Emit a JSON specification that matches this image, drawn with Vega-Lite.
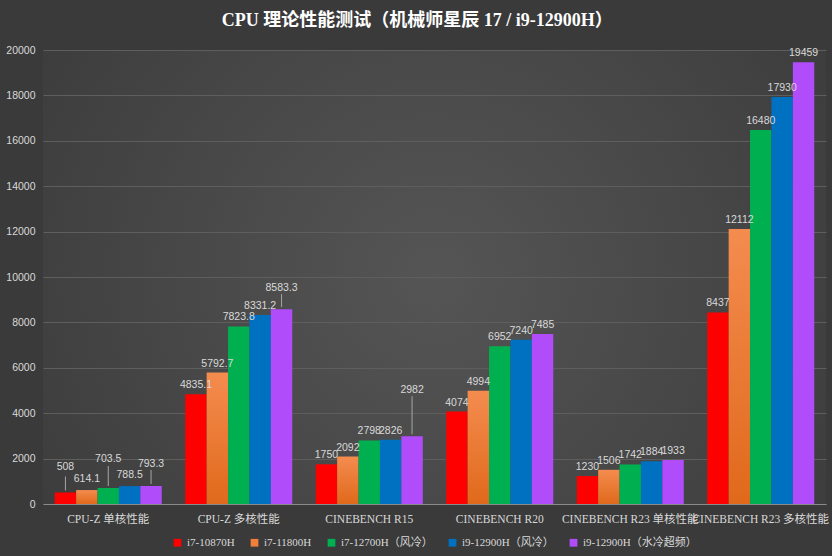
{
  "$schema": "https://vega.github.io/schema/vega-lite/v6.json",
  "autosize": {"type": "fit", "contains": "padding"},
  "width": 832,
  "height": 556,
  "padding": {"left": 5, "top": 12, "right": 6, "bottom": 8},
  "background": "#3a3a3a",
  "title": {
    "text": "CPU 理论性能测试（机械师星辰 17 / i9-12900H）",
    "font": "Liberation Serif, Noto Sans CJK SC",
    "fontSize": 18,
    "fontWeight": "bold",
    "color": "#ffffff",
    "anchor": "middle",
    "frame": "bounds",
    "offset": 15
  },
  "data": {
    "values": [
      {"cat": "CPU-Z 单核性能", "cpu": "i7-10870H", "value": 508},
      {"cat": "CPU-Z 单核性能", "cpu": "i7-11800H", "value": 614.1},
      {"cat": "CPU-Z 单核性能", "cpu": "i7-12700H（风冷）", "value": 703.5},
      {"cat": "CPU-Z 单核性能", "cpu": "i9-12900H（风冷）", "value": 788.5},
      {"cat": "CPU-Z 单核性能", "cpu": "i9-12900H（水冷超频）", "value": 793.3},
      {"cat": "CPU-Z 多核性能", "cpu": "i7-10870H", "value": 4835.1},
      {"cat": "CPU-Z 多核性能", "cpu": "i7-11800H", "value": 5792.7},
      {"cat": "CPU-Z 多核性能", "cpu": "i7-12700H（风冷）", "value": 7823.8},
      {"cat": "CPU-Z 多核性能", "cpu": "i9-12900H（风冷）", "value": 8331.2},
      {"cat": "CPU-Z 多核性能", "cpu": "i9-12900H（水冷超频）", "value": 8583.3},
      {"cat": "CINEBENCH R15", "cpu": "i7-10870H", "value": 1750},
      {"cat": "CINEBENCH R15", "cpu": "i7-11800H", "value": 2092},
      {"cat": "CINEBENCH R15", "cpu": "i7-12700H（风冷）", "value": 2798},
      {"cat": "CINEBENCH R15", "cpu": "i9-12900H（风冷）", "value": 2826},
      {"cat": "CINEBENCH R15", "cpu": "i9-12900H（水冷超频）", "value": 2982},
      {"cat": "CINEBENCH R20", "cpu": "i7-10870H", "value": 4074},
      {"cat": "CINEBENCH R20", "cpu": "i7-11800H", "value": 4994},
      {"cat": "CINEBENCH R20", "cpu": "i7-12700H（风冷）", "value": 6952},
      {"cat": "CINEBENCH R20", "cpu": "i9-12900H（风冷）", "value": 7240},
      {"cat": "CINEBENCH R20", "cpu": "i9-12900H（水冷超频）", "value": 7485},
      {"cat": "CINEBENCH R23 单核性能", "cpu": "i7-10870H", "value": 1230},
      {"cat": "CINEBENCH R23 单核性能", "cpu": "i7-11800H", "value": 1506},
      {"cat": "CINEBENCH R23 单核性能", "cpu": "i7-12700H（风冷）", "value": 1742},
      {"cat": "CINEBENCH R23 单核性能", "cpu": "i9-12900H（风冷）", "value": 1884},
      {"cat": "CINEBENCH R23 单核性能", "cpu": "i9-12900H（水冷超频）", "value": 1933},
      {"cat": "CINEBENCH R23 多核性能", "cpu": "i7-10870H", "value": 8437},
      {"cat": "CINEBENCH R23 多核性能", "cpu": "i7-11800H", "value": 12112},
      {"cat": "CINEBENCH R23 多核性能", "cpu": "i7-12700H（风冷）", "value": 16480},
      {"cat": "CINEBENCH R23 多核性能", "cpu": "i9-12900H（风冷）", "value": 17930},
      {"cat": "CINEBENCH R23 多核性能", "cpu": "i9-12900H（水冷超频）", "value": 19459}
    ]
  },
  "encoding": {
    "x": {
      "field": "cat", "type": "nominal", "sort": null,
      "scale": {"paddingInner": 0.18, "paddingOuter": 0.09},
      "axis": {"title": null, "labelAngle": 0, "ticks": false, "labelPadding": 9, "domainColor": "#8a8a8a", "labelFontSize": 11.5, "labelFont": "Liberation Serif, Noto Sans CJK SC"}
    },
    "xOffset": {
      "field": "cpu", "type": "nominal", "sort": null,
      "scale": {"paddingInner": 0, "paddingOuter": 0}
    },
    "y": {
      "field": "value", "type": "quantitative",
      "scale": {"domain": [0, 20000]},
      "axis": {"title": null, "format": "d", "labelOverlap": false, "values": [0,2000,4000,6000,8000,10000,12000,14000,16000,18000,20000], "domain": false, "ticks": false, "labelPadding": 8, "gridColor": "#5e5e5e", "labelFontSize": 10.5, "labelFont": "Liberation Sans"}
    }
  },
  "layer": [
    {
      "mark": {"type": "bar"},
      "encoding": {
        "fill": {
          "condition": {"test": "datum.cpu === 'i7-11800H'", "value": {"gradient": "linear", "x1": 0, "y1": 0, "x2": 0, "y2": 1, "stops": [{"offset": 0, "color": "#f48c4f"}, {"offset": 1, "color": "#e0691b"}]}},
          "field": "cpu", "type": "nominal", "sort": null,
          "scale": {"range": ["#ff0000", "#ef7f3b", "#00b050", "#0070c0", "#b14cfb"]},
          "legend": {"title": null, "orient": "bottom", "direction": "horizontal", "symbolType": "square", "symbolSize": 60, "symbolStrokeWidth": 0, "labelColor": "#d9d9d9", "labelFontSize": 11, "labelFont": "Liberation Serif, Noto Sans CJK SC", "columnPadding": 14, "offset": 12}
        }
      }
    },
    {
      "mark": {"type": "rule", "color": "#a6a6a6", "strokeWidth": 1,
        "yOffset": -2,
        "y2Offset": {"expr": "datum.cat === 'CPU-Z 单核性能' && datum.cpu === 'i7-10870H' ? -16 : datum.cat === 'CPU-Z 单核性能' && datum.cpu === 'i7-12700H（风冷）' ? -22 : datum.cat === 'CPU-Z 单核性能' && datum.cpu === 'i9-12900H（水冷超频）' ? -16 : datum.cat === 'CPU-Z 多核性能' && datum.cpu === 'i9-12900H（水冷超频）' ? -15 : datum.cat === 'CINEBENCH R15' && datum.cpu === 'i9-12900H（水冷超频）' ? -40 : -2"}
      },
      "encoding": {
        "y2": {"field": "value"}
      }
    },
    {
      "mark": {"type": "text", "baseline": "bottom", "fontSize": 10.5, "color": "#d9d9d9", "font": "Liberation Sans, Noto Sans CJK SC",
        "dy": {"expr": "datum.cat === 'CPU-Z 单核性能' && datum.cpu === 'i7-10870H' ? -20 : datum.cat === 'CPU-Z 单核性能' && datum.cpu === 'i7-12700H（风冷）' ? -24 : datum.cat === 'CPU-Z 单核性能' && datum.cpu === 'i9-12900H（水冷超频）' ? -17 : datum.cat === 'CPU-Z 单核性能' ? -6 : datum.cat === 'CPU-Z 多核性能' && datum.cpu === 'i9-12900H（水冷超频）' ? -16 : datum.cat === 'CINEBENCH R15' && datum.cpu === 'i9-12900H（水冷超频）' ? -41 : -4"}
      },
      "encoding": {
        "text": {"field": "value", "type": "nominal"}
      }
    }
  ],
  "config": {
    "font": "Liberation Serif, Noto Sans CJK SC",
    "view": {
      "stroke": null,
      "fill": {"gradient": "radial", "x1": 0.5, "y1": 0.5, "r1": 0, "x2": 0.5, "y2": 0.5, "r2": 0.75, "stops": [{"offset": 0, "color": "#555555"}, {"offset": 1, "color": "#363636"}]}
    },
    "axis": {"labelColor": "#d9d9d9", "gridColor": "#5e5e5e"},
    "legend": {"layout": {"bottom": {"anchor": "middle"}}}
  }
}
